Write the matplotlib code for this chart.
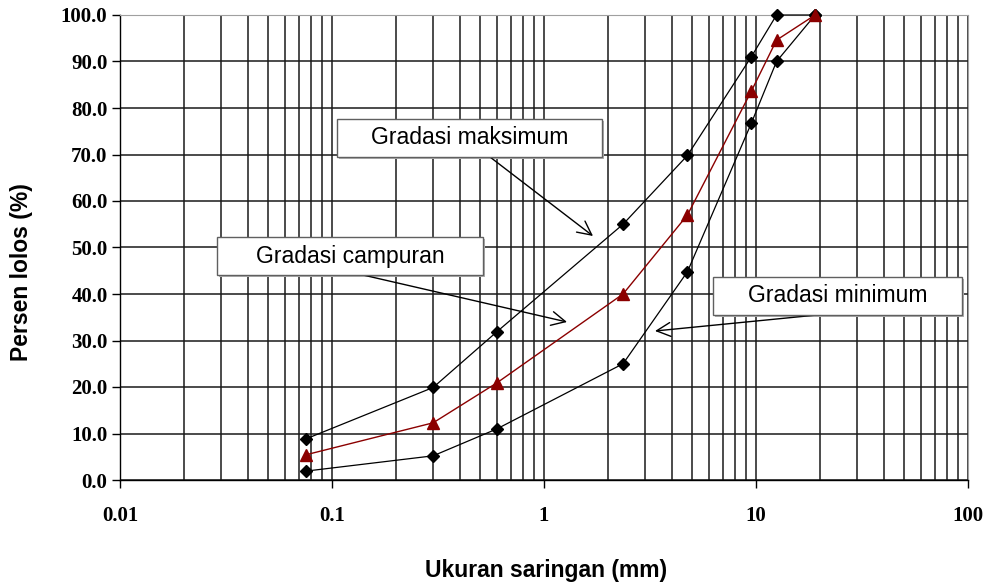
import numpy as np
import matplotlib
matplotlib.use("Agg")
import matplotlib.pyplot as plt
from matplotlib.patches import Rectangle, FancyArrowPatch
from matplotlib.ticker import LogLocator, FixedLocator, NullFormatter

# sieve sizes (mm) and percent passing
sieve = [0.075, 0.3, 0.6, 2.36, 4.75, 9.5, 12.5, 19.0]
grad_max = [8.8, 19.9, 31.9, 55.0, 69.8, 91.0, 100.0, 100.0]
grad_min = [1.9, 5.2, 11.0, 25.0, 44.8, 76.7, 90.0, 100.0]
grad_mix = [5.4, 12.3, 20.9, 40.0, 57.0, 83.6, 94.6, 100.0]

y_ticks = [0, 10, 20, 30, 40, 50, 60, 70, 80, 90, 100]
x_ticks = [0.01, 0.1, 1, 10, 100]
x_labels = ["0.01", "0.1", "1", "10", "100"]

W, H = 986, 586
fig = plt.figure(figsize=(W / 100, H / 100), dpi=100)
ax = fig.add_axes([120 / W, 1 - 480 / H, 848 / W, 465 / H])

ax.set_xscale("log")
ax.set_xlim(0.01, 100)
ax.set_ylim(0, 100)

# grid on every log minor position
ax.xaxis.set_major_locator(FixedLocator(x_ticks))
ax.xaxis.set_minor_locator(LogLocator(base=10, subs=np.arange(2, 10)))
ax.xaxis.set_minor_formatter(NullFormatter())
ax.set_xticks(x_ticks)
ax.set_xticklabels(x_labels)
ax.set_yticks(y_ticks)
ax.set_yticklabels([f"{v:.1f}" for v in y_ticks])
ax.grid(True, which="both", axis="x", color="#1a1a1a", linewidth=1.1)
ax.grid(True, which="major", axis="y", color="#1a1a1a", linewidth=1.1)
ax.set_axisbelow(True)

for s in ["top", "right"]:
    ax.spines[s].set_color("#a0a0a0")
for s in ["left", "bottom"]:
    ax.spines[s].set_color("black")
    ax.spines[s].set_linewidth(1.0)

ax.tick_params(axis="x", which="major", length=6, width=1, pad=13)
ax.tick_params(axis="x", which="minor", length=0)
ax.tick_params(axis="y", which="major", length=6, width=1, pad=3)
for lab in ax.get_xticklabels() + ax.get_yticklabels():
    lab.set_fontfamily("Liberation Serif")
    lab.set_fontweight("bold")
    lab.set_fontsize(15)

ax.plot(sieve, grad_max, color="black", linewidth=0.9, marker="D",
        markersize=6, markerfacecolor="black", zorder=3, clip_on=False)
ax.plot(sieve, grad_min, color="black", linewidth=0.9, marker="D",
        markersize=6, markerfacecolor="black", zorder=3, clip_on=False)
ax.plot(sieve, grad_mix, color="#8b0000", linewidth=1.0, marker="^",
        markersize=9, markerfacecolor="#8b0000", zorder=4, clip_on=False)


def px(x, y):
    return x / W, 1 - y / H


def label_box(x0, y0, x1, y1, text, start, tip):
    sh = Rectangle(px(x0 + 2, y1 + 2), (x1 - x0) / W, (y1 - y0) / H,
                   transform=fig.transFigure, facecolor="#b0b0b0",
                   edgecolor="none", zorder=5)
    fig.patches.append(sh)
    r = Rectangle(px(x0, y1), (x1 - x0) / W, (y1 - y0) / H,
                  transform=fig.transFigure, facecolor="white",
                  edgecolor="#606060", linewidth=1.0, zorder=6)
    fig.patches.append(r)
    fig.text((x0 + x1) / 2 / W, 1 - (y0 + y1) / 2 / H, text,
             ha="center", va="center", fontsize=16.5,
             family="Liberation Sans", zorder=7)
    fig.add_artist(FancyArrowPatch(
        px(*start), px(*tip), transform=fig.transFigure,
        arrowstyle="->,head_length=5,head_width=2.5", color="black",
        linewidth=1.0, mutation_scale=2, shrinkA=0, shrinkB=0, zorder=6))


label_box(337, 119, 602, 157, "Gradasi maksimum", (490, 157), (593, 236))
label_box(217, 237, 483, 275, "Gradasi campuran", (363, 275), (567, 322))
label_box(713, 277, 962, 315, "Gradasi minimum", (817, 315), (655, 331))

fig.text(546 / W, 1 - 570 / H, "Ukuran saringan (mm)", ha="center",
         va="center", fontsize=16.5, fontweight="bold",
         family="Liberation Sans")
fig.text(22 / W, 1 - 272 / H, "Persen lolos (%)", ha="center",
         va="center", rotation=90, fontsize=16.5, fontweight="bold",
         family="Liberation Sans")

fig.savefig("out.png", dpi=100)
